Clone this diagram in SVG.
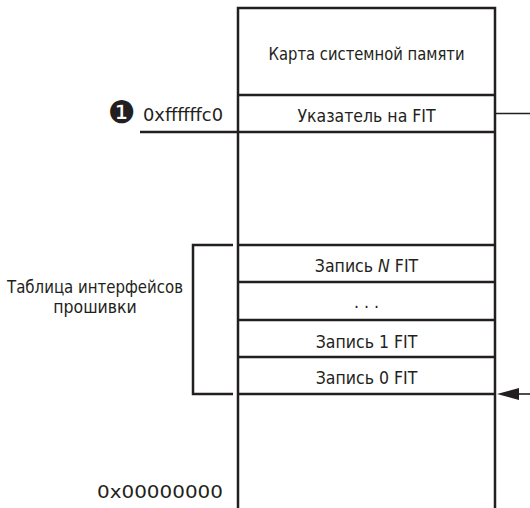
<svg xmlns="http://www.w3.org/2000/svg" width="530" height="508" viewBox="0 0 530 508">
<style>
.ln{stroke:#231f20;stroke-width:2.5;fill:none}
.thin{stroke:#231f20;stroke-width:1.6;fill:none}
.t{font-family:"DejaVu Sans Condensed","Liberation Sans Narrow","Liberation Sans",sans-serif;font-size:17.5px;fill:#231f20}
.c{text-anchor:middle}
.e{text-anchor:end}
</style>
<rect width="530" height="508" fill="#fff"/>
<g id="column">
<path class="ln" d="M238,508V8H495V508"/>
</g>
<g id="sysmap"><text class="t c" x="366.5" y="60" textLength="196" lengthAdjust="spacingAndGlyphs">Карта системной памяти</text></g>
<g id="fitptr"><line class="ln" x1="238" y1="95" x2="495" y2="95"/><line class="ln" x1="140" y1="132" x2="495" y2="132"/><text class="t c" x="366.5" y="122">Указатель на FIT</text></g>
<g id="entryN"><line class="ln" x1="238" y1="245" x2="495" y2="245"/><text class="t c" x="366.5" y="272"><tspan>Запись </tspan><tspan font-style="italic">N</tspan><tspan> FIT</tspan></text></g>
<g id="dots"><line class="ln" x1="238" y1="282" x2="495" y2="282"/><text class="t c" x="366.5" y="308">. . .</text></g>
<g id="entry1"><line class="ln" x1="238" y1="320" x2="495" y2="320"/><text class="t c" x="366.5" y="348">Запись 1 FIT</text></g>
<g id="entry0"><line class="ln" x1="238" y1="357" x2="495" y2="357"/><line class="ln" x1="238" y1="394" x2="495" y2="394"/><text class="t c" x="366.5" y="384">Запись 0 FIT</text></g>
<g id="addrTop"><text x="122" y="123" font-family="DejaVu Sans,sans-serif" font-size="31" fill="#231f20" text-anchor="middle">❶</text><text class="t" x="143" y="121" font-size="18" textLength="80" lengthAdjust="spacingAndGlyphs">0xffffffc0</text></g>
<g id="fitTable"><path class="ln" d="M233,245H193V394H233"/><text class="t c" x="95" y="293" textLength="176" lengthAdjust="spacingAndGlyphs">Таблица интерфейсов</text><text class="t c" x="95" y="313">прошивки</text></g>
<g id="addrBottom"><text class="t" x="97" y="498" font-size="21" textLength="126" lengthAdjust="spacingAndGlyphs">0x00000000</text></g>
<g id="connectors">
<line class="thin" x1="495" y1="113.5" x2="530" y2="113.5"/>
<line class="thin" x1="510" y1="394" x2="530" y2="394"/>
<polygon points="497,394 519,388 519,400" fill="#231f20"/>
</g>
</svg>
